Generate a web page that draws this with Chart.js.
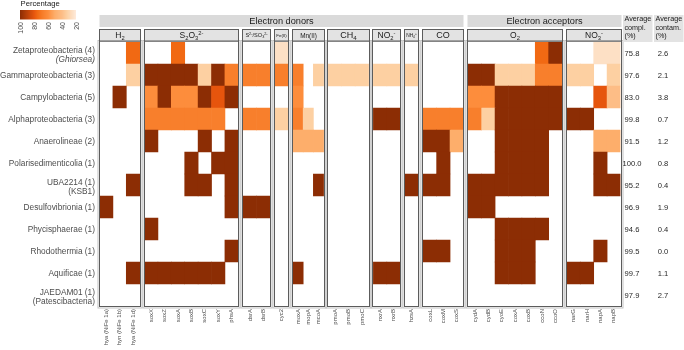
<!DOCTYPE html>
<html><head><meta charset="utf-8">
<script src="https://cdn.jsdelivr.net/npm/chart.js@4.4.1/dist/chart.umd.min.js"></script>
<style>html,body{margin:0;padding:0;background:#fff;}#wrap{width:684px;height:350px;position:relative;}</style>
</head><body><div id="wrap"><canvas id="c" width="684" height="350"></canvas></div>
<script>
// ---------------- data ----------------
const taxa = ['Zetaproteobacteria (4)','Gammaproteobacteria (3)','Campylobacteria (5)','Alphaproteobacteria (3)','Anaerolineae (2)','Polarisedimenticolia (1)','UBA2214 (1)','Desulfovibrionia (1)','Phycisphaerae (1)','Rhodothermia (1)','Aquificae (1)','JAEDAM01 (1)'];
const taxaSub = ['(Ghiorsea)','','','','','','(KSB1)','','','','','(Patescibacteria)'];
const taxaSubItalic = [true,false,false,false,false,false,false,false,false,false,false,false];
const genes = ['hya (NiFe 1a)','hyn (NiFe 1b)','hya (NiFe 1d)','soxX','soxZ','soxA','soxB','soxC','soxY','phsA','dsrA','dsrB','cyc2','moxA','mopA','mcoA','pmoA','pmoB','pmoC','nxrA','nxrB','hzsA','coxL','coxM','coxS','cydA','cydB','cyoE','coxA','coxB','ccoN','ccoO','narG','narH','napA','napB'];
const panelTitles = ['H_{2}','S_{2}O_{3}^{2-}','S^{2-}/SO_{3}^{2-}','Fe(II)','Mn(II)','CH_{4}','NO_{2}^{-}','NH_{4}^{+}','CO','O_{2}','NO_{3}^{-}'];
const panelSizes = [3,7,2,1,3,3,2,1,3,7,4];
const groupTitles = ['Electron donors','Electron acceptors'];
const groupPanelCounts = [9,2];
const completeness = [75.8,97.6,83.0,99.8,91.5,100.0,95.2,96.9,94.6,99.5,99.7,97.9];
const contamination = [2.6,2.1,3.8,0.7,1.2,0.8,0.4,1.9,0.4,0.0,1.1,2.7];
const legendTicks = [100,80,60,40,20];
// percentage of genomes per group carrying each gene (0 = absent), columns follow `genes`
const percent = [
  [0,0,75, 0,0,75,0,0,0,0, 0,0, 25, 0,0,0, 0,0,0, 0,0, 0, 0,0,0, 0,0,0,0,0,75,100, 0,0,25,25],
  [0,0,33, 100,100,100,100,33,100,67, 67,67, 67, 67,0,33, 33,33,33, 33,33, 33, 0,0,0, 100,100,33,33,33,67,67, 33,33,0,33],
  [0,100,0, 60,100,60,60,100,80,100, 0,0, 0, 60,0,0, 0,0,0, 0,0, 0, 0,0,0, 60,60,100,100,100,100,100, 0,0,80,40],
  [0,0,0, 67,67,67,67,67,67,0, 67,67, 33, 67,33,0, 0,0,0, 100,100, 0, 67,67,67, 67,33,100,100,100,100,100, 100,100,0,0],
  [0,0,0, 100,0,0,0,100,0,100, 0,0, 0, 50,50,50, 0,0,0, 0,0, 0, 100,100,50, 0,0,100,100,100,100,0, 0,0,50,50],
  [0,0,0, 0,0,0,100,0,100,100, 0,0, 0, 0,0,0, 0,0,0, 0,0, 0, 0,100,0, 0,0,100,100,100,100,0, 0,0,100,0],
  [0,0,100, 0,0,0,100,100,0,100, 0,0, 0, 0,0,100, 0,0,0, 0,0, 100, 100,100,0, 100,100,100,100,100,100,0, 0,0,100,100],
  [100,0,0, 0,0,0,0,0,0,100, 100,100, 0, 0,0,0, 0,0,0, 0,0, 0, 0,0,0, 100,100,0,0,0,0,0, 0,0,0,0],
  [0,0,0, 100,0,0,0,0,0,0, 0,0, 0, 0,0,0, 0,0,0, 0,0, 0, 0,0,0, 0,0,100,100,100,100,0, 0,0,0,0],
  [0,0,0, 0,0,0,0,0,0,100, 0,0, 0, 0,0,0, 0,0,0, 0,0, 0, 100,100,0, 0,0,100,100,100,0,0, 0,0,100,0],
  [0,0,100, 100,100,100,100,100,100,0, 0,0, 0, 100,0,0, 0,0,0, 100,100, 0, 0,0,0, 0,0,100,100,100,0,0, 100,100,0,0],
  [0,0,0, 0,0,0,0,0,0,0, 0,0, 0, 0,0,0, 0,0,0, 0,0, 0, 0,0,0, 0,0,0,0,0,0,0, 0,0,0,0]
];

// ---------------- layout (units on the x scale) ----------------
const GAP = 0.36, NARROW_PANEL = 4, NARROW = 0.76;
const colStart = [], colEnd = [], panelStart = [], panelEnd = [];
(function(){
  let u = 0, c = 0;
  panelSizes.forEach((n, p) => {
    if (p > 0) u += GAP;
    panelStart.push(u);
    const w = p === NARROW_PANEL ? NARROW : 1;
    for (let i = 0; i < n; i++) { colStart[c] = u; u += w; colEnd[c] = u; c++; }
    panelEnd.push(u);
  });
})();
const TOTAL = panelEnd[panelEnd.length - 1];
const colCenters = colStart.map((s, i) => (s + colEnd[i]) / 2);

// ---------------- colour scale ----------------
const STOPS = [[20,'#feeadb'],[25,'#fde0c5'],[33,'#fdd0a2'],[40,'#fdbd86'],[50,'#fdae6b'],[60,'#fd8d3c'],[67,'#f87f2c'],[75,'#f16913'],[80,'#e6550d'],[100,'#8c2d04']];
function hex(h){return [parseInt(h.slice(1,3),16),parseInt(h.slice(3,5),16),parseInt(h.slice(5,7),16)];}
function colorFor(v){
  if (v <= STOPS[0][0]) return STOPS[0][1];
  for (let i = 1; i < STOPS.length; i++) {
    if (v <= STOPS[i][0]) {
      const [v0,c0] = STOPS[i-1], [v1,c1] = STOPS[i];
      const t = (v - v0) / (v1 - v0), a = hex(c0), b = hex(c1);
      return 'rgb(' + a.map((x,k)=>Math.round(x + (b[k]-x)*t)).join(',') + ')';
    }
  }
  return STOPS[STOPS.length-1][1];
}

// ---------------- cells ----------------
const cells = [];
percent.forEach((row, r) => row.forEach((v, c) => {
  if (v > 0) cells.push({ x: [colStart[c], colEnd[c]], y: taxa[r], v: v });
}));

const FONT = '"Liberation Sans", Arial, sans-serif';

function drawRich(ctx, str, cx, cy, size, color) {
  const re = /([_^])\{([^}]*)\}|([^_^]+)/g; let m; const parts = [];
  while ((m = re.exec(str))) {
    if (m[3]) parts.push({t: m[3], k: ''}); else parts.push({t: m[2], k: m[1] === '_' ? 'sub' : 'sup'});
  }
  parts.forEach(p => { p.s = p.k ? size * 0.68 : size; ctx.font = p.s + 'px ' + FONT; p.w = ctx.measureText(p.t).width; });
  const total = parts.reduce((a, p) => a + p.w, 0);
  let x = cx - total / 2;
  ctx.fillStyle = color; ctx.textAlign = 'left'; ctx.textBaseline = 'alphabetic';
  parts.forEach(p => {
    ctx.font = p.s + 'px ' + FONT;
    const dy = p.k === 'sub' ? size * 0.22 : p.k === 'sup' ? -size * 0.42 : 0;
    ctx.fillText(p.t, x, cy + size * 0.36 + dy);
    x += p.w;
  });
}

const decor = {
  id: 'decor',
  afterDraw(chart) {
    const ctx = chart.ctx, xs = chart.scales.x, ys = chart.scales.y, area = chart.chartArea;
    const px = v => xs.getPixelForValue(v);
    ctx.save();
    const frameTop = 41, headTop = 29.5, bottom = Math.round(area.bottom) + 0.5;
    // panel frames + headers
    const headSizes = [8.5, 8.5, 5.6, 4.4, 6.4, 9, 8.5, 4.8, 9, 8.5, 8.5];
    panelSizes.forEach((n, p) => {
      const x0 = Math.round(px(panelStart[p])) - 0.5, x1 = Math.round(px(panelEnd[p])) + 0.5;
      ctx.lineWidth = 1;
      ctx.strokeStyle = '#c2c2c2';
      ctx.strokeRect(x0 - 1.5, frameTop - 0.5, x1 - x0 + 3, bottom - frameTop + 2);
      ctx.strokeStyle = '#5c5c5c';
      ctx.strokeRect(x0, frameTop, x1 - x0, bottom - frameTop);
      ctx.fillStyle = '#e3e3e3';
      ctx.fillRect(x0, headTop, x1 - x0, frameTop - headTop);
      ctx.strokeStyle = '#5c5c5c';
      ctx.strokeRect(x0, headTop, x1 - x0, frameTop - headTop);
      drawRich(ctx, panelTitles[p], (x0 + x1) / 2, (headTop + frameTop) / 2, headSizes[p], '#1a1a1a');
    });
    // group strips
    let pi = 0;
    groupTitles.forEach((g, gi) => {
      const a = pi, b = pi + groupPanelCounts[gi] - 1; pi += groupPanelCounts[gi];
      const x0 = Math.round(px(panelStart[a])) - 0.5, x1 = Math.round(px(panelEnd[b])) + 0.5;
      ctx.fillStyle = '#dadada';
      ctx.fillRect(x0, 15, x1 - x0, 12);
      ctx.fillStyle = '#1a1a1a'; ctx.font = '9.2px ' + FONT; ctx.textAlign = 'center'; ctx.textBaseline = 'middle';
      ctx.fillText(g, (x0 + x1) / 2, 21.5);
    });
    // row labels
    taxa.forEach((t, r) => {
      const y = ys.getPixelForValue(r);
      ctx.fillStyle = '#4d4d4d'; ctx.textAlign = 'right'; ctx.textBaseline = 'middle';
      if (taxaSub[r]) {
        ctx.font = '8.3px ' + FONT; ctx.fillText(t, 95, y - 1.8);
        ctx.font = (taxaSubItalic[r] ? 'italic ' : '') + '8.3px ' + FONT; ctx.fillText(taxaSub[r], 95, y + 6.6);
      } else {
        ctx.font = '8.3px ' + FONT; ctx.fillText(t, 95, y + 1);
      }
      // completeness / contamination
      ctx.font = '7.6px ' + FONT; ctx.fillStyle = '#262626'; ctx.textAlign = 'center';
      ctx.fillText(completeness[r].toFixed(1), 632, y + 1);
      ctx.fillText(contamination[r].toFixed(1), 663, y + 1);
    });
    // right column headers
    [['Average','compl.','(%)', 623], ['Average','contam.','(%)', 654]].forEach(h => {
      ctx.fillStyle = '#e3e3e3'; ctx.fillRect(h[3], 15, 29.5, 27);
      ctx.fillStyle = '#1a1a1a'; ctx.font = '7.2px ' + FONT; ctx.textAlign = 'left'; ctx.textBaseline = 'middle';
      ctx.fillText(h[0], h[3] + 1.5, 19.5); ctx.fillText(h[1], h[3] + 1.5, 28); ctx.fillText(h[2], h[3] + 1.5, 36.5);
    });
    // colour legend
    const lx = v => 20 + (100 - v) * 0.7;
    for (let x = 20; x < 76; x++) {
      const v = 100 - (x + 0.5 - 20) / 0.7;
      ctx.fillStyle = colorFor(v); ctx.fillRect(x, 10, 1, 9.5);
    }
    ctx.fillStyle = '#1a1a1a'; ctx.font = '7.7px ' + FONT; ctx.textAlign = 'left'; ctx.textBaseline = 'middle';
    ctx.fillText('Percentage', 20.5, 4);
    ctx.fillStyle = '#4d4d4d'; ctx.font = '7px ' + FONT;
    legendTicks.forEach(v => {
      ctx.save(); ctx.translate(lx(v) + 1, 22); ctx.rotate(-Math.PI / 2);
      ctx.textAlign = 'right'; ctx.textBaseline = 'middle'; ctx.fillText(String(v), 0, 0);
      ctx.restore();
    });
    ctx.restore();
  }
};

new Chart(document.getElementById('c'), {
  type: 'bar',
  data: { labels: taxa, datasets: [{
    data: cells,
    backgroundColor: c => colorFor(c.raw ? c.raw.v : 0),
    borderWidth: 0, barPercentage: 1, categoryPercentage: 1
  }]},
  options: {
    indexAxis: 'y', responsive: false, animation: false, devicePixelRatio: 1,
    layout: { padding: { top: 42, left: 99.5, right: 63.5, bottom: 0 } },
    plugins: { legend: { display: false }, tooltip: { enabled: false } },
    scales: {
      y: { type: 'category', ticks: { display: false }, grid: { display: false, drawTicks: false }, border: { display: false },
           afterFit: s => { s.width = 0; } },
      x: { type: 'linear', min: 0, max: TOTAL,
           grid: { display: false, drawTicks: false }, border: { display: false },
           ticks: { autoSkip: false, minRotation: 90, maxRotation: 90, padding: 3, color: '#4d4d4d',
                    font: { size: 6, family: FONT }, callback: (v, i) => genes[i] },
           afterBuildTicks: s => { s.ticks = colCenters.map(v => ({ value: v })); },
           afterFit: s => { s.height = 44; } }
    }
  },
  plugins: [decor]
});
</script></body></html>
